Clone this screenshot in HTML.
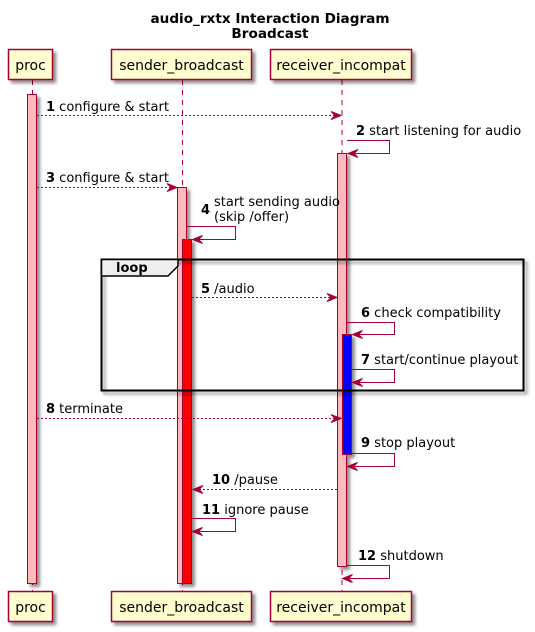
<!DOCTYPE html>
<html><head><meta charset="utf-8"><style>
html,body{margin:0;padding:0;background:#fff;}
svg{display:block;}
text{font-family:"DejaVu Sans","Liberation Sans",sans-serif;}
</style></head><body>
<svg width="535" height="632" viewBox="0 0 535 632" xmlns="http://www.w3.org/2000/svg">
<defs>
<filter id="sh" x="-20%" y="-20%" width="150%" height="150%"><feGaussianBlur in="SourceAlpha" stdDeviation="1.5"/><feOffset dx="3" dy="3"/><feComponentTransfer><feFuncA type="linear" slope="0.45"/></feComponentTransfer><feMerge><feMergeNode/><feMergeNode in="SourceGraphic"/></feMerge></filter>
</defs>
<text x="270" y="23" font-size="13.6" font-weight="bold" text-anchor="middle">audio_rxtx Interaction Diagram</text>
<text x="270" y="38" font-size="13.6" font-weight="bold" text-anchor="middle">Broadcast</text>

<g stroke="#A80036" stroke-width="1" stroke-dasharray="5,5">
<line x1="32.5" y1="80" x2="32.5" y2="591"/>
<line x1="182.5" y1="80" x2="182.5" y2="591"/>
<line x1="342" y1="80" x2="342" y2="591"/>
</g>

<g stroke="#A80036" stroke-width="1" filter="url(#sh)">
<rect x="27.5" y="94.5" width="9" height="489" fill="#FFBBBB"/>
<rect x="177.5" y="187.5" width="9" height="396" fill="#FFBBBB"/>
<rect x="182.5" y="239.5" width="9" height="344" fill="#FF0000"/>
<rect x="337.5" y="153.5" width="9" height="413" fill="#FFBBBB"/>
<rect x="342.5" y="334.5" width="9" height="120" fill="#0000FF"/>
</g>

<g fill="#FEFECE" stroke="#A80036" stroke-width="1.5" filter="url(#sh)">
<rect x="8.5" y="49.5" width="44" height="30"/>
<rect x="111.5" y="49.5" width="140" height="30"/>
<rect x="270.5" y="49.5" width="141" height="30"/>
<rect x="8.5" y="591.5" width="44" height="30"/>
<rect x="111.5" y="591.5" width="140" height="30"/>
<rect x="270.5" y="591.5" width="141" height="30"/>
</g>
<g font-size="14" text-anchor="middle" fill="#000">
<text x="30.5" y="70">proc</text>
<text x="181.5" y="70">sender_broadcast</text>
<text x="341" y="70">receiver_incompat</text>
<text x="30.5" y="612">proc</text>
<text x="181.5" y="612">sender_broadcast</text>
<text x="341" y="612">receiver_incompat</text>
</g>

<g filter="url(#sh)">
<rect x="101.5" y="259.5" width="422" height="131" fill="none" stroke="#000" stroke-width="2"/>
</g>
<path d="M101.5 259.5 L178 259.5 L178 266 L168 276 L101.5 276 Z" fill="#EEEEEE" stroke="#000" stroke-width="1.5"/>
<text x="116" y="272" font-size="13" font-weight="bold">loop</text>

<g stroke="#A80036" stroke-width="1" fill="none">
<line x1="37" y1="115.5" x2="340" y2="115.5" stroke-dasharray="2,2"/>
<polyline points="347,140.5 389.5,140.5 389.5,153.5 349,153.5"/>
<line x1="37" y1="187.5" x2="176" y2="187.5" stroke-dasharray="2,2"/>
<polyline points="187,226.5 235.5,226.5 235.5,239.5 193,239.5"/>
<line x1="192" y1="297.5" x2="336" y2="297.5" stroke-dasharray="2,2"/>
<polyline points="347,322.5 394.5,322.5 394.5,334.5 353,334.5"/>
<polyline points="352,369.5 394.5,369.5 394.5,382.5 353,382.5"/>
<line x1="37" y1="418.5" x2="340" y2="418.5" stroke-dasharray="2,2"/>
<polyline points="352,453.5 394.5,453.5 394.5,466.5 348,466.5"/>
<line x1="337" y1="489.5" x2="194" y2="489.5" stroke-dasharray="2,2"/>
<polyline points="192,518.5 235.5,518.5 235.5,531.5 193,531.5"/>
<polyline points="347,565.5 389.5,565.5 389.5,578.5 343,578.5"/>
</g>
<g fill="#A80036" stroke="#A80036" stroke-width="1">
<path d="M341,115.5 l-10,-4 l4,4 l-4,4z"/>
<path d="M348,153.5 l10,-4 l-4,4 l4,4z"/>
<path d="M177,187.5 l-10,-4 l4,4 l-4,4z"/>
<path d="M192.5,239.5 l10,-4 l-4,4 l4,4z"/>
<path d="M337,297.5 l-10,-4 l4,4 l-4,4z"/>
<path d="M352.5,334.5 l10,-4 l-4,4 l4,4z"/>
<path d="M352.5,382.5 l10,-4 l-4,4 l4,4z"/>
<path d="M341,418.5 l-10,-4 l4,4 l-4,4z"/>
<path d="M347.5,466.5 l10,-4 l-4,4 l4,4z"/>
<path d="M193,489.5 l10,-4 l-4,4 l4,4z"/>
<path d="M192.5,531.5 l10,-4 l-4,4 l4,4z"/>
<path d="M342.5,578.5 l10,-4 l-4,4 l4,4z"/>
</g>

<g font-size="13" fill="#000">
<text x="46" y="111"><tspan font-weight="bold">1</tspan> configure &amp; start</text>
<text x="356" y="135"><tspan font-weight="bold">2</tspan> start listening for audio</text>
<text x="46" y="182"><tspan font-weight="bold">3</tspan> configure &amp; start</text>
<text x="201" y="214" font-weight="bold">4</text>
<text x="214" y="206">start sending audio</text>
<text x="214" y="221">(skip /offer)</text>
<text x="201" y="293"><tspan font-weight="bold">5</tspan> /audio</text>
<text x="361" y="317"><tspan font-weight="bold">6</tspan> check compatibility</text>
<text x="361" y="364"><tspan font-weight="bold">7</tspan> start/continue playout</text>
<text x="46" y="413"><tspan font-weight="bold">8</tspan> terminate</text>
<text x="361" y="447"><tspan font-weight="bold">9</tspan> stop playout</text>
<text x="212" y="484"><tspan font-weight="bold">10</tspan> /pause</text>
<text x="202" y="514"><tspan font-weight="bold">11</tspan> ignore pause</text>
<text x="358" y="560"><tspan font-weight="bold">12</tspan> shutdown</text>
</g>
</svg>
</body></html>
